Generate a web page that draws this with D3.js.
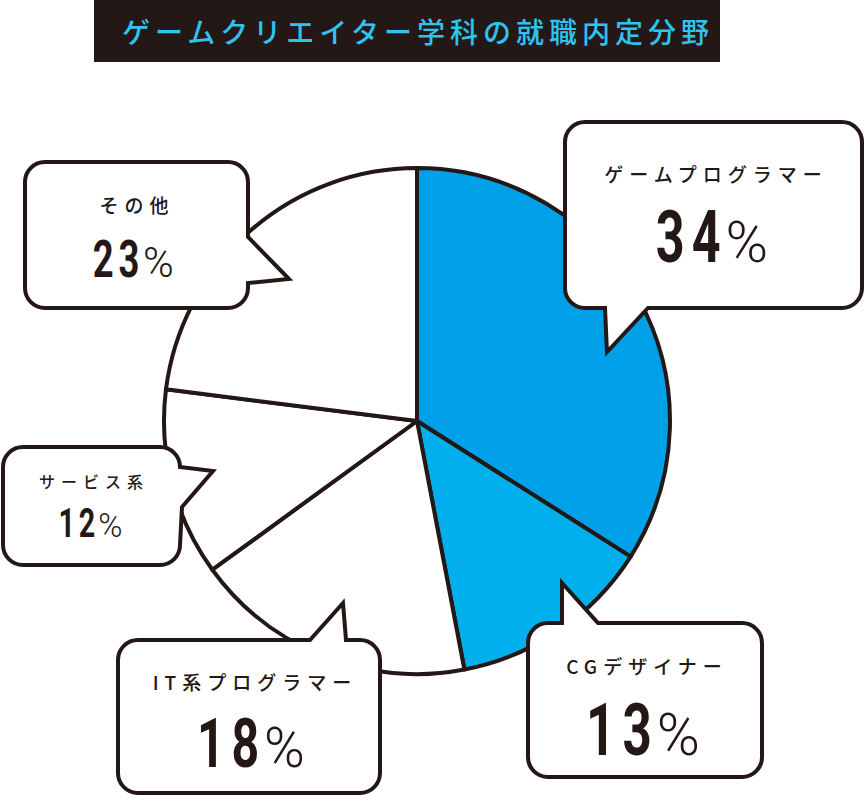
<!DOCTYPE html>
<html>
<head>
<meta charset="utf-8">
<script src="https://cdn.jsdelivr.net/npm/d3@7"></script>
<style>
  body { margin: 0; background: #fff; }
  svg { display: block; }
</style>
</head>
<body>
<svg id="chart" width="864" height="800"></svg>
<script>
// data
var title = "ゲームクリエイター学科の就職内定分野";
var categories = ["ゲームプログラマー", "CGデザイナー", "IT系プログラマー", "サービス系", "その他"];
var values = [34, 13, 18, 12, 23];
var sliceColors = ["#00a0e9", "#00afec", "#ffffff", "#ffffff", "#ffffff"];

// callout layout: box, tail (points in clockwise order), text positions, sizes
var callouts = [
  {x: 565, y: 122, w: 297, h: 186, side: "bottom", tail: [[648, 308], [607, 352], [605, 308]],
   cx: 713, ly: 175, ny: 262, lsize: 19, nsize: 72},
  {x: 528, y: 623, w: 234, h: 154, side: "top", tail: [[562, 623], [562, 583], [598, 623]],
   cx: 644, ly: 667, ny: 755, lsize: 19, nsize: 73},
  {x: 118, y: 640, w: 262, h: 153, side: "top", tail: [[310, 640], [343, 603], [346, 640]],
   cx: 252, ly: 683, ny: 767, lsize: 19, nsize: 69},
  {x: 3, y: 447, w: 177, h: 118, side: "right", tail: [[180, 467], [213, 471], [182, 507]],
   cx: 91, ly: 482, ny: 537, lsize: 16, nsize: 41},
  {x: 25, y: 162, w: 223, h: 146, side: "right", tail: [[248, 237], [289, 279], [248, 283]],
   cx: 134, ly: 206, ny: 277, lsize: 19, nsize: 52}
];

var ink = "#231815";
var svg = d3.select("#chart");

// title bar
svg.append("rect")
  .attr("x", 94).attr("y", 0)
  .attr("width", 626).attr("height", 62)
  .attr("fill", ink);
svg.append("text")
  .attr("x", 415 + 3).attr("y", 43)
  .attr("text-anchor", "middle")
  .attr("font-family", "Noto Sans CJK JP")
  .attr("font-weight", 500)
  .attr("font-size", 28)
  .attr("letter-spacing", 5)
  .attr("fill", "#2fc3ef")
  .text(title);

// pie
var pie = d3.pie().sort(null).value(function(d) { return d; });
var arc = d3.arc().innerRadius(0).outerRadius(253);
var g = svg.append("g").attr("transform", "translate(417,421)");
g.selectAll("path")
  .data(pie(values))
  .enter().append("path")
    .attr("d", arc)
    .attr("fill", function(d, i) { return sliceColors[i]; })
    .attr("stroke", ink)
    .attr("stroke-width", 4)
    .attr("stroke-linejoin", "round");

// speech bubble path: rounded rect with a tail inserted on one side
function bubble(c) {
  var r = 20, x = c.x, y = c.y, w = c.w, h = c.h;
  var p = d3.path();
  var pts = function() { c.tail.forEach(function(t) { p.lineTo(t[0], t[1]); }); };
  p.moveTo(x + r, y);
  if (c.side == "top") pts();
  p.lineTo(x + w - r, y);
  p.arcTo(x + w, y, x + w, y + r, r);
  if (c.side == "right") pts();
  p.lineTo(x + w, y + h - r);
  p.arcTo(x + w, y + h, x + w - r, y + h, r);
  if (c.side == "bottom") pts();
  p.lineTo(x + r, y + h);
  p.arcTo(x, y + h, x, y + h - r, r);
  p.lineTo(x, y + r);
  p.arcTo(x, y, x + r, y, r);
  p.closePath();
  return p.toString();
}

var boxes = svg.selectAll("g.callout")
  .data(callouts)
  .enter().append("g")
    .attr("class", "callout");

boxes.append("path")
  .attr("d", bubble)
  .attr("fill", "#fff")
  .attr("stroke", ink)
  .attr("stroke-width", 4)
  .attr("stroke-linejoin", "miter");

boxes.append("text")
  .attr("x", function(d) { return d.cx + 3; })
  .attr("y", function(d) { return d.ly; })
  .attr("dy", "0.35em")
  .attr("text-anchor", "middle")
  .attr("font-family", "Noto Sans CJK JP")
  .attr("font-weight", 500)
  .attr("font-size", function(d) { return d.lsize; })
  .attr("letter-spacing", 6)
  .attr("fill", ink)
  .text(function(d, i) { return categories[i]; });

// big numbers: condensed bold digits + light percent sign
var sx = 0.7;
boxes.each(function(d, i) {
  var b = d3.select(this);
  var ng = b.append("g");
  var digits = ng.append("g").append("text")
    .attr("font-family", "Roboto")
    .attr("font-weight", 700)
    .attr("font-size", d.nsize)
    .attr("letter-spacing", d.nsize * 0.14)
    .attr("fill", ink)
    .text(values[i]);
  var pct = ng.append("text")
    .attr("font-family", "Roboto")
    .attr("font-weight", 300)
    .attr("font-size", d.nsize * 0.8)
    .attr("fill", ink)
    .text("%");
  var dw = digits.node().getComputedTextLength() * sx;
  var pw = pct.node().getComputedTextLength();
  var total = dw + pw;
  var left = d.cx - total / 2;
  digits.attr("transform", "translate(" + left + "," + d.ny + ") scale(" + sx + ",1)");
  pct.attr("x", left + dw - d.nsize * 0.03).attr("y", d.ny);
});
</script>
</body>
</html>
